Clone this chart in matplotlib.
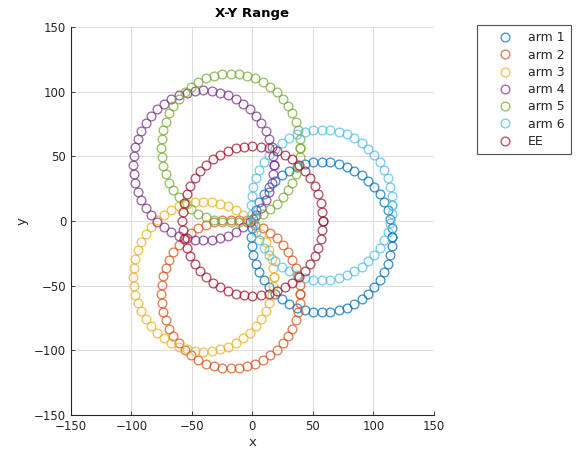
import numpy as np
import matplotlib
matplotlib.use("Agg")
import matplotlib.pyplot as plt

# ---- data (circle traces, one per series) ----
labels = ["arm 1", "arm 2", "arm 3", "arm 4", "arm 5", "arm 6", "EE"]
center_x = [57.3, -18.0, -40.5, -40.5, -18.0, 57.3, 0.0]
center_y = [-12.5, -56.5, -43.0, 43.0, 56.5, 12.5, 0.0]
radius = [58.2, 57.5, 58.0, 58.0, 57.5, 58.2, 58.0]
n_points = 52
colors = ["#0072BD", "#D95319", "#EDB120", "#7E2F8E", "#77AC30", "#4DBEEE", "#A2142F"]

x_ticks = [-150, -100, -50, 0, 50, 100, 150]
y_ticks = [-150, -100, -50, 0, 50, 100, 150]

fig = plt.figure(figsize=(5.8, 4.59), dpi=100)
ax = fig.add_axes([0.1224, 0.0959, 0.6256, 0.8452])

theta = np.linspace(0, 2 * np.pi, n_points + 1)
for cx, cy, r, c, lab in zip(center_x, center_y, radius, colors, labels):
    xs = cx + r * np.cos(theta)
    ys = cy + r * np.sin(theta)
    ax.plot(xs, ys, linestyle="none", marker="o", markersize=6.3,
            markerfacecolor="none", markeredgecolor=c, markeredgewidth=0.95,
            alpha=0.75, label=lab)

ax.set_xlim(-150, 150)
ax.set_ylim(-150, 150)
ax.set_xticks(x_ticks)
ax.set_yticks(y_ticks)
ax.grid(True, color="#dfdfdf", linewidth=0.8)
ax.set_axisbelow(True)
for s in ["top", "right"]:
    ax.spines[s].set_visible(False)
for s in ["left", "bottom"]:
    ax.spines[s].set_color("#262626")
    ax.spines[s].set_linewidth(0.8)
ax.tick_params(direction="in", length=3, colors="#262626", labelsize=8.5, width=0.6)
ax.set_xlabel("x", fontsize=9.5, color="#262626", labelpad=2)
ax.set_ylabel("y", fontsize=9.5, color="#262626", labelpad=4)
ax.set_title("X-Y Range", fontsize=9.5, fontweight="bold", pad=7)

leg = fig.legend(loc="upper left", bbox_to_anchor=(0.822, 0.945), numpoints=1,
                 fontsize=9, frameon=True, fancybox=False, shadow=False,
                 handlelength=3.5, handletextpad=0.1, labelspacing=0.34,
                 borderpad=0.5, borderaxespad=0)
leg.get_frame().set_edgecolor("#262626")
leg.get_frame().set_linewidth(0.8)
for t in leg.get_texts():
    t.set_color("#262626")

fig.savefig("out.png", dpi=100)
